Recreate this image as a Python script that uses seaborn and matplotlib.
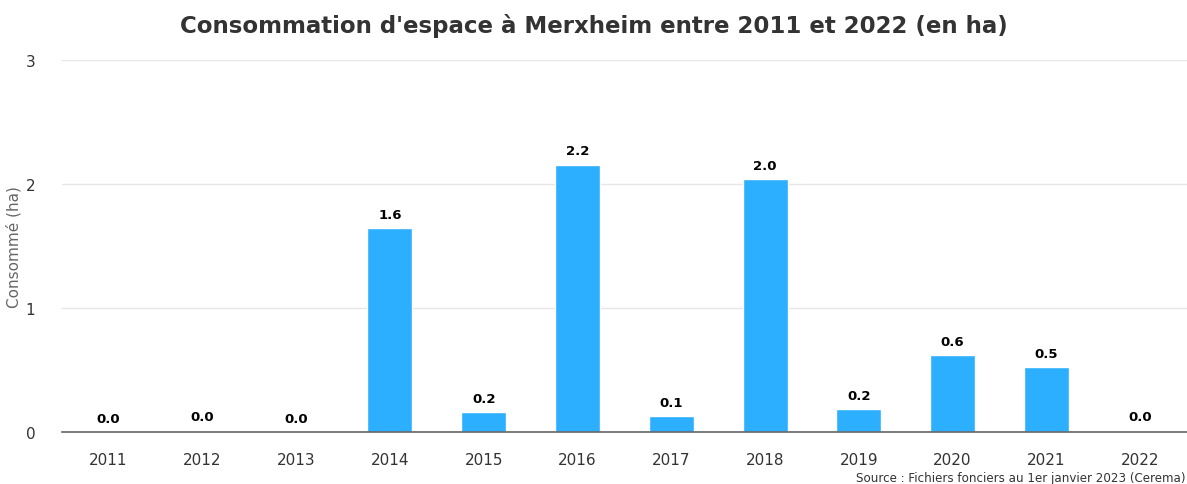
import matplotlib
matplotlib.use("Agg")
import matplotlib.pyplot as plt
import seaborn as sns
import pandas as pd

years = ['2011', '2012', '2013', '2014', '2015', '2016', '2017', '2018', '2019', '2020', '2021', '2022']
conso = [0.0, 0.01, 0.0, 1.645, 0.16, 2.155, 0.13, 2.04, 0.185, 0.62, 0.525, 0.01]

df = pd.DataFrame({'annee': years, 'conso': conso})

sns.set_style('white')
plt.rcParams['font.family'] = ['DejaVu Sans']

fig = plt.figure(figsize=(11.87, 4.85), dpi=100)
ax = fig.add_axes([0.052, 0.107, 0.948, 0.767])

sns.barplot(data=df, x='annee', y='conso', color='#2caffe', width=0.48,
            saturation=1, ax=ax, zorder=3)

for i, v in enumerate(conso):
    ax.text(i, v + 0.06, f'{v:.1f}', ha='center', va='bottom',
            fontsize=9.5, fontweight='bold', color='#000000', zorder=4)

ax.set_ylim(0, 3)
ax.set_xlim(-0.5, 11.5)
ax.set_yticks([0, 1, 2, 3])
ax.yaxis.grid(True, color='#e6e6e6', linewidth=1, zorder=0)
for s in ['top', 'right', 'left']:
    ax.spines[s].set_visible(False)
ax.spines['bottom'].set_color('#666666')
ax.spines['bottom'].set_linewidth(1.2)
ax.spines['bottom'].set_zorder(5)
ax.tick_params(axis='both', length=0, labelsize=11, labelcolor='#333333')
ax.tick_params(axis='x', pad=14)
ax.tick_params(axis='y', pad=19)
ax.set_xlabel('')
ax.set_ylabel('Consommé (ha)', fontsize=11, color='#666666', labelpad=3)

fig.suptitle("Consommation d'espace à Merxheim entre 2011 et 2022 (en ha)",
             x=0.5, y=0.972, fontsize=16.5, fontweight='bold', color='#333333')
fig.text(0.999, 0.0, 'Source : Fichiers fonciers au 1er janvier 2023 (Cerema)',
         ha='right', va='bottom', fontsize=8.6, color='#333333')

fig.savefig('out.png', dpi=100)
